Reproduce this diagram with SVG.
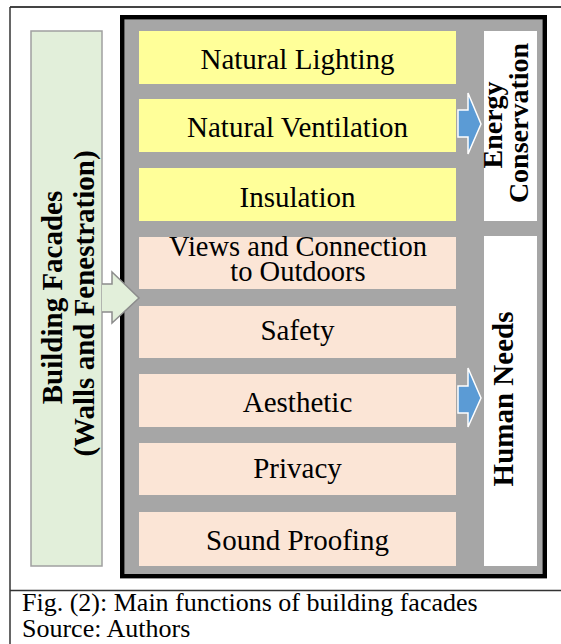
<svg xmlns="http://www.w3.org/2000/svg" width="561" height="644" viewBox="0 0 561 644">
<style>
.t{font-family:"Liberation Serif","Times New Roman",serif;font-size:29px;fill:#000;text-anchor:middle}
.b{font-weight:bold}
.cap{font-family:"Liberation Serif","Times New Roman",serif;font-size:26px;fill:#000}
.y{fill:#ffff99}
.p{fill:#fbe5d6}
.w{fill:#ffffff}
.blue{fill:#5b9bd5;stroke:#ffffff;stroke-width:1.5}
</style>
<rect x="0" y="0" width="561" height="644" fill="#ffffff"/>
<g id="frame" fill="none" stroke="#333" stroke-width="1.5">
<line x1="10" y1="7" x2="561" y2="7" stroke-width="2" stroke="#444"/>
<line x1="10" y1="7" x2="10" y2="644"/>
<line x1="10" y1="590.5" x2="561" y2="590.5"/>
</g>
<g id="container">
<rect x="122.2" y="17.2" width="422.6" height="559" fill="#a6a6a6" stroke="#000" stroke-width="4.4"/>
</g>
<g id="facades">
<rect x="31" y="31" width="71" height="535" fill="#e2efda" stroke="#a0a0a0" stroke-width="1.5"/>
<text class="t b" transform="translate(62,297.5) rotate(-90)">Building Facades</text>
<text class="t b" transform="translate(94,303.5) rotate(-90)">(Walls and Fenestration)</text>
</g>
<g id="n1"><rect class="y" x="139" y="31" width="317" height="53"/><text class="t" x="297.5" y="69">Natural Lighting</text></g>
<g id="n2"><rect class="y" x="139" y="99" width="317" height="53"/><text class="t" x="297.5" y="137">Natural Ventilation</text></g>
<g id="n3"><rect class="y" x="139" y="168" width="317" height="53"/><text class="t" x="297.5" y="207">Insulation</text></g>
<g id="n4"><rect class="p" x="139" y="237" width="317" height="52"/><text class="t" style="font-size:28.5px" x="298" y="256">Views and Connection</text><text class="t" style="font-size:28.5px" x="298" y="281">to Outdoors</text></g>
<g id="n5"><rect class="p" x="139" y="306" width="317" height="52"/><text class="t" x="297.5" y="339.5">Safety</text></g>
<g id="n6"><rect class="p" x="139" y="374" width="317" height="53"/><text class="t" x="297.5" y="411.5">Aesthetic</text></g>
<g id="n7"><rect class="p" x="139" y="443" width="317" height="52"/><text class="t" x="297.5" y="478">Privacy</text></g>
<g id="n8"><rect class="p" x="139" y="512" width="317" height="54"/><text class="t" x="297.5" y="550">Sound Proofing</text></g>
<g id="energy"><rect class="w" x="484" y="31" width="53" height="190"/>
<text class="t b" style="font-size:28px" transform="translate(502,125) rotate(-90)">Energy</text>
<text class="t b" style="font-size:28px" transform="translate(528,123) rotate(-90)">Conservation</text></g>
<g id="human"><rect class="w" x="484" y="236" width="53" height="330"/>
<text class="t b" transform="translate(513,399) rotate(-90)">Human Needs</text></g>
<g id="connectors">
<path d="M102,284 H112 V272 L139,298 L112,323 V312 H102 Z" fill="#e2efda" stroke="none"/>
<path d="M102,284 H112 V272 L139,298 L112,323 V312 H102" fill="none" stroke="#8c8c8c" stroke-width="1.5"/>
<polygon class="blue" points="458,110 468,110 468,93 481,124 468,154 468,137 458,137"/>
<polygon class="blue" points="458,386 468,386 468,368 481,398 468,427 468,413 458,413"/>
</g>
<g id="caption">
<text class="cap" x="22" y="610.5">Fig. (2): Main functions of building facades</text>
<text class="cap" x="22" y="637">Source: Authors</text>
</g>
</svg>
